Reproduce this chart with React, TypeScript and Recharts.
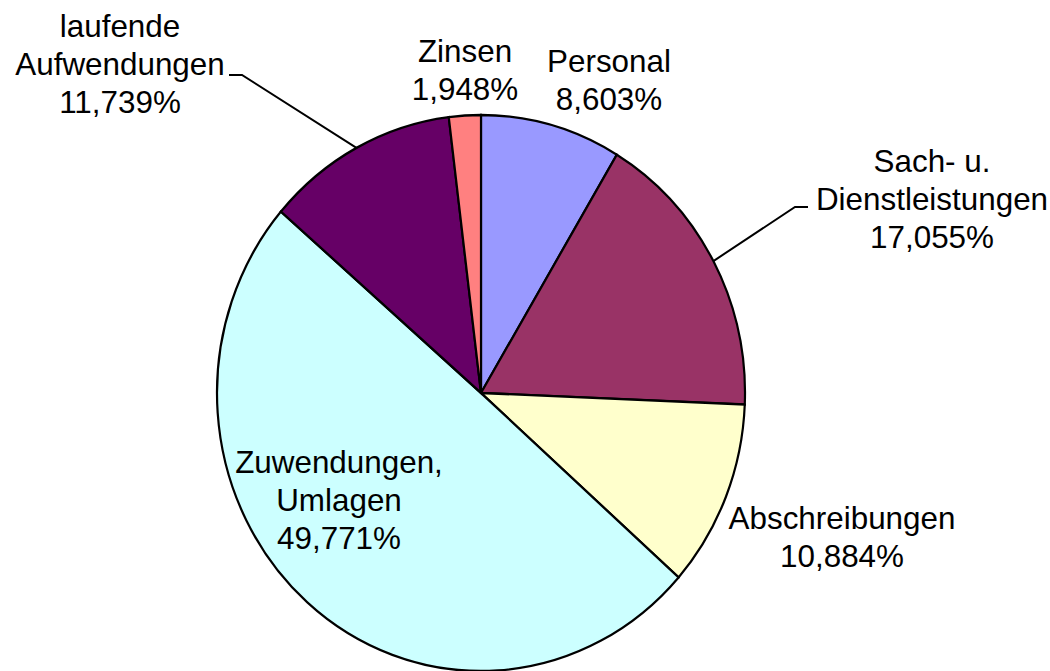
import { PieChart, Pie, Cell, Sector } from 'recharts'

const categories = [
  'Personal',
  'Sach- u. Dienstleistungen',
  'Abschreibungen',
  'Zuwendungen, Umlagen',
  'laufende Aufwendungen',
  'Zinsen',
]
const shares = [8.603, 17.055, 10.884, 49.771, 11.739, 1.948]
const colors = ['#9999FF', '#993366', '#FFFFCC', '#CCFFFF', '#660066', '#FF8080']

// label text lines (how Excel broke them)
const labelLines: Record<string, string[]> = {
  'Personal': ['Personal'],
  'Sach- u. Dienstleistungen': ['Sach- u.', 'Dienstleistungen'],
  'Abschreibungen': ['Abschreibungen'],
  'Zuwendungen, Umlagen': ['Zuwendungen,', 'Umlagen'],
  'laufende Aufwendungen': ['laufende', 'Aufwendungen'],
  'Zinsen': ['Zinsen'],
}

// label placement relative to pie centre, plus leader elbow/end where Excel drew one
const labelLayout: Record<string, { dx: number; dy: number; elbow?: [number, number]; end?: [number, number] }> = {
  'Personal': { dx: 128, dy: -321 },
  'Sach- u. Dienstleistungen': { dx: 451, dy: -221, elbow: [314, -186], end: [327, -186] },
  'Abschreibungen': { dx: 361, dy: 136 },
  'Zuwendungen, Umlagen': { dx: -142, dy: 80 },
  'laufende Aufwendungen': { dx: -361, dy: -356, elbow: [-239, -318], end: [-252, -318] },
  'Zinsen': { dx: -16, dy: -331 },
}

const data = categories.map((name, i) => ({ name, value: shares[i] }))

const CX = 481
const CY = 393
const RADIUS = 264
const Y_SCALE = 278 / 264 // the original pie is slightly stretched vertically
const LINE_H = 38
const FONT = '"Liberation Sans", Arial, sans-serif'
const RAD = Math.PI / 180

const fmt = (v: number) => v.toFixed(3).replace('.', ',') + '%'

function StretchedSector(props: any) {
  const { cy } = props
  return (
    <g transform={`translate(0 ${cy}) scale(1 ${Y_SCALE}) translate(0 ${-cy})`}>
      <Sector {...props} />
    </g>
  )
}

function renderLabel(props: any) {
  const { cx, cy, midAngle, outerRadius, name, value } = props
  const layout = labelLayout[name]
  const lines = [...labelLines[name], fmt(value)]
  const x = cx + layout.dx
  const y = cy + layout.dy
  let leader = null
  if (layout.elbow && layout.end) {
    const ex = cx + outerRadius * Math.cos(-midAngle * RAD)
    const ey = cy + outerRadius * Y_SCALE * Math.sin(-midAngle * RAD)
    const pts = `${ex},${ey} ${cx + layout.elbow[0]},${cy + layout.elbow[1]} ${cx + layout.end[0]},${cy + layout.end[1]}`
    leader = <polyline points={pts} fill="none" stroke="#000" strokeWidth={2} />
  }
  return (
    <g key={name}>
      {leader}
      <text x={x} y={y} textAnchor="middle" fill="#000" fontSize={31.4} fontFamily={FONT}>
        {lines.map((l, i) => (
          <tspan key={i} x={x} dy={i === 0 ? 0 : LINE_H}>
            {l}
          </tspan>
        ))}
      </text>
    </g>
  )
}

export default function App() {
  return (
    <div style={{ position: 'absolute', left: 0, top: 0, width: 1050, height: 671, background: '#fff' }}>
      <PieChart width={1050} height={671} margin={{ top: 0, right: 0, bottom: 0, left: 0 }}>
        <Pie
          data={data}
          dataKey="value"
          nameKey="name"
          cx={CX}
          cy={CY}
          outerRadius={RADIUS}
          startAngle={90}
          endAngle={-270}
          stroke="#000"
          strokeWidth={2.2}
          label={renderLabel}
          labelLine={false}
          inactiveShape={StretchedSector}
          activeShape={StretchedSector}
          shape={StretchedSector}
          isAnimationActive={false}
        >
          {data.map((d, i) => (
            <Cell key={d.name} fill={colors[i]} />
          ))}
        </Pie>
      </PieChart>
    </div>
  )
}
